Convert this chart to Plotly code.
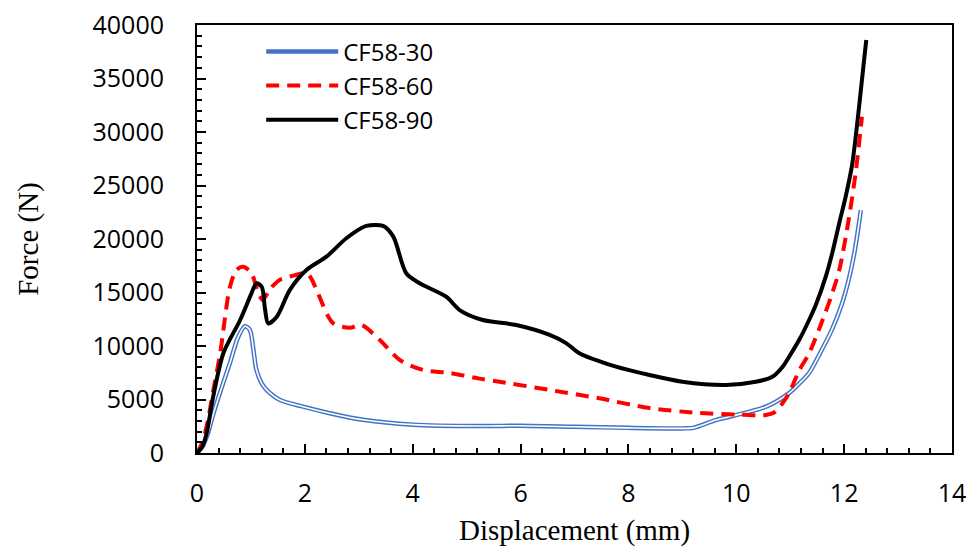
import plotly.graph_objects as go

# ---- data ----
x30 = [0, 0.1, 0.2, 0.3, 0.45, 0.61, 0.76, 0.89, 0.98, 1.05, 1.1, 1.2, 1.29, 1.54, 1.97,
       2.46, 3.08, 4.0, 5.24, 6.0, 7.0, 8.0, 9.0, 9.2, 9.62, 9.93, 10.55, 10.98, 11.17, 11.35,
       11.55, 11.78, 11.95, 12.09, 12.2, 12.31]
y30 = [0, 600, 1800, 3600, 6000, 8400, 10800, 11850, 11500, 9500, 7800, 6500, 5900, 4950, 4330,
       3720, 3100, 2650, 2520, 2550, 2450, 2350, 2300, 2350, 3080, 3460, 4330, 5600, 6500, 7480,
       9300, 11600, 13800, 16300, 19000, 22700]

x60 = [0, 0.1, 0.2, 0.3, 0.43, 0.61, 0.73, 0.86, 1.01, 1.14, 1.22, 1.35, 1.54, 1.8, 2.03,
       2.12, 2.22, 2.52, 2.83, 3.05, 3.39, 3.76, 4.19, 4.69, 5.24, 5.61, 6.54, 7.46, 8.39,
       9.31, 10.0, 10.55, 10.73, 10.85, 10.98, 11.17, 11.35, 11.6, 11.75, 11.91, 12.09, 12.22, 12.33]
y60 = [0, 1000, 3000, 5800, 9350, 15500, 17100, 17400, 16800, 14900, 14300, 15300, 16200, 16600, 16800,
       16300, 15200, 12150, 11700, 11950, 10560, 8690, 7760, 7480, 6950, 6660, 5890, 5110, 4200,
       3740, 3600, 3550, 3860, 4600, 5600, 7760, 9300, 12430, 14500, 17100, 22000, 26450, 31430]

x90 = [0, 0.1, 0.18, 0.3, 0.49, 0.8, 1.0, 1.1, 1.2, 1.26, 1.32, 1.48, 1.72, 2.03, 2.4,
       2.77, 3.14, 3.45, 3.64, 3.88, 4.13, 4.62, 4.87, 5.3, 5.92, 6.54, 6.85, 7.09, 7.77,
       8.39, 9.0, 9.81, 10.36, 10.67, 10.86, 10.98, 11.17, 11.35, 11.48, 11.66, 11.78, 11.91,
       12.03, 12.15, 12.28, 12.41]
y90 = [0, 600, 1870, 5260, 9350, 12430, 14800, 15860, 15540, 13500, 12120, 12740, 15230, 17100, 18350,
       20070, 21220, 21220, 20220, 16800, 15860, 14610, 13360, 12430, 11960, 11030, 10250, 9320, 8070,
       7290, 6660, 6360, 6660, 7130, 8070, 9000, 10600, 12430, 13900, 16500, 18700, 21500,
       24000, 27000, 32500, 38600]

names = ["CF58-30", "CF58-60", "CF58-90"]
x_ticks = [0, 2, 4, 6, 8, 10, 12, 14]
y_ticks = [0, 5000, 10000, 15000, 20000, 25000, 30000, 35000, 40000]
y_ticktext = [str(v) for v in y_ticks]

fig = go.Figure()
# blue double line: wide blue stroke with white core
fig.add_trace(go.Scatter(x=x30, y=y30, mode="lines", name=names[0],
                         line=dict(color="#4472C4", width=4.5, shape="spline", smoothing=0.8)))
fig.add_trace(go.Scatter(x=x30, y=y30, mode="lines", name=names[0], showlegend=False,
                         hoverinfo="skip",
                         line=dict(color="white", width=1.6, shape="spline", smoothing=0.8)))
fig.add_trace(go.Scatter(x=x60, y=y60, mode="lines", name=names[1],
                         line=dict(color="#FF0000", width=4, dash="13px,8px", shape="spline", smoothing=0.8)))
fig.add_trace(go.Scatter(x=x90, y=y90, mode="lines", name=names[2],
                         line=dict(color="black", width=4, shape="spline", smoothing=0.8)))

tickfont = dict(family="Open Sans", size=25, color="black")
titlefont = dict(family="Liberation Serif", size=29, color="black")

fig.update_layout(
    width=971, height=552,
    margin=dict(l=197, r=19, t=25, b=99, autoexpand=False),
    paper_bgcolor="white", plot_bgcolor="white",
    showlegend=True,
    legend=dict(x=0.085, y=0.99, xanchor="left", yanchor="top",
                font=dict(family="Open Sans", size=24, color="black"),
                bgcolor="rgba(0,0,0,0)", itemwidth=72, tracegroupgap=0),
    xaxis=dict(range=[0, 14], tickvals=x_ticks, ticks="inside", ticklen=9, tickwidth=1.5,
               tickcolor="black", showline=True, linecolor="black", linewidth=2, mirror=True,
               showgrid=False, zeroline=False, tickfont=tickfont, ticklabelstandoff=17,
               minor=dict(dtick=0.4, ticks="inside", ticklen=5, tickwidth=1.5, tickcolor="black",
                          showgrid=False),
               title=dict(text="Displacement (mm)", font=titlefont, standoff=12)),
    yaxis=dict(range=[0, 40000], tickvals=y_ticks, ticktext=y_ticktext, ticks="inside",
               ticklen=9, tickwidth=1.5,
               tickcolor="black", showline=True, linecolor="black", linewidth=2, mirror=True,
               showgrid=False, zeroline=False, tickfont=tickfont, ticklabelstandoff=26,
               minor=dict(dtick=1000, ticks="inside", ticklen=5, tickwidth=1.5, tickcolor="black",
                          showgrid=False),
               title=dict(text="Force (N)", font=titlefont, standoff=45)),
)

fig.write_html("out.html")
